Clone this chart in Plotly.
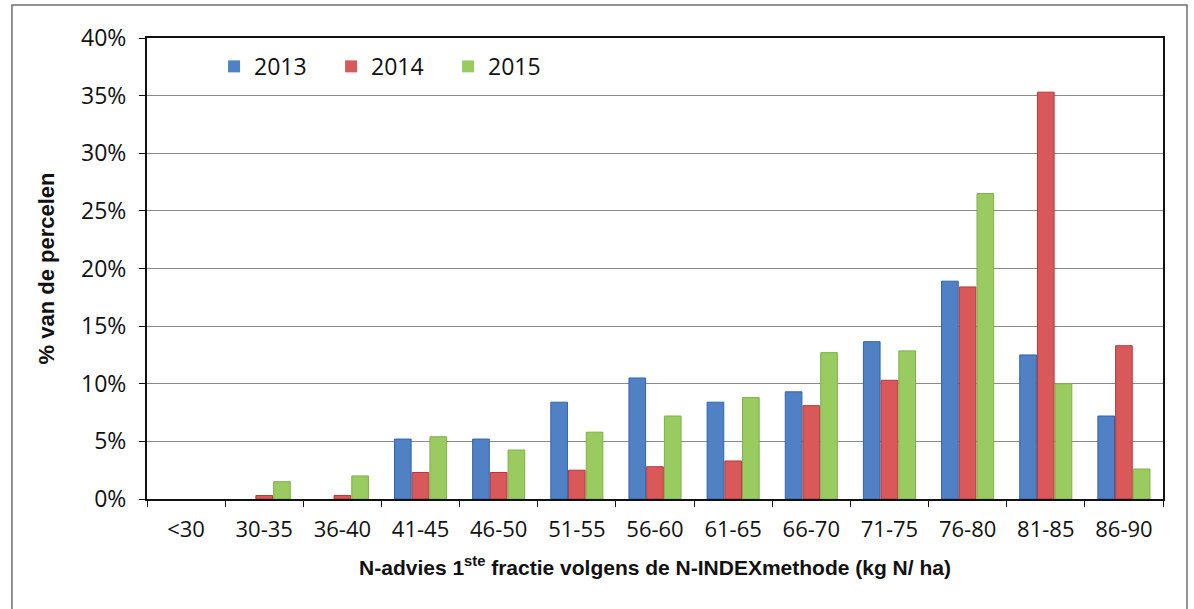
import plotly.graph_objects as go

categories = ["<30", "30-35", "36-40", "41-45", "46-50", "51-55", "56-60",
              "61-65", "66-70", "71-75", "76-80", "81-85", "86-90"]
v2013 = [0, 0, 0, 5.2, 5.2, 8.4, 10.5, 8.4, 9.3, 13.65, 18.9, 12.5, 7.2]
v2014 = [0, 0.3, 0.3, 2.3, 2.3, 2.5, 2.8, 3.3, 8.1, 10.3, 18.4, 35.3, 13.3]
v2015 = [0, 1.5, 2.0, 5.4, 4.25, 5.8, 7.2, 8.8, 12.7, 12.85, 26.5, 10.0, 2.6]
y_ticks = [0, 5, 10, 15, 20, 25, 30, 35, 40]
y_tick_labels = [f"{v}%" for v in y_ticks]

series = [
    ("2013", v2013, "#4F81C4", "#2F64AE"),
    ("2014", v2014, "#D9595B", "#B5383B"),
    ("2015", v2015, "#9ACB61", "#7DB046"),
]

fig = go.Figure()
for name, vals, col, line in series:
    fig.add_trace(go.Bar(
        x=categories, y=vals, name=name,
        marker=dict(color=col,
                    line=dict(color=line, width=[0 if v == 0 else 1 for v in vals])),
    ))

fig.update_layout(
    width=1194, height=609,
    margin=dict(l=147, r=31, t=38, b=110),
    paper_bgcolor="white", plot_bgcolor="white",
    barmode="group", bargap=0.32, bargroupgap=0.06,
    font=dict(family="Open Sans, Noto Sans, sans-serif", color="#111111"),
    legend=dict(
        orientation="h", x=0.066, y=0.985, xanchor="left", yanchor="top",
        font=dict(size=23, family="Open Sans, sans-serif", color="#111"),
        bgcolor="rgba(0,0,0,0)", itemwidth=30, traceorder="normal",
        entrywidth=72,
    ),
    showlegend=True,
)

fig.update_yaxes(
    range=[0, 40], tickvals=y_ticks, ticktext=y_tick_labels,
    showgrid=True, gridcolor="#8A8A8A", gridwidth=1,
    showline=True, linecolor="#111111", linewidth=2, mirror=True,
    ticks="outside", ticklen=6, tickcolor="#111111",
    ticklabelstandoff=8,
    tickfont=dict(size=23, family="Open Sans, sans-serif", color="#111"),
    zeroline=False,
    title=dict(text="% van de percelen",
               font=dict(size=22, family="Liberation Sans, Arial, sans-serif",
                         color="#111", weight="bold"),
               standoff=20),
)
fig.update_xaxes(
    showline=True, linecolor="#111111", linewidth=2, mirror=True,
    ticks="outside", ticklen=6, tickcolor="#111111", tickson="boundaries",
    ticklabelstandoff=10,
    tickfont=dict(size=22, family="Open Sans, sans-serif", color="#111"),
    title=dict(text="N-advies 1<sup>ste</sup> fractie volgens de N-INDEXmethode (kg N/ ha)",
               font=dict(size=21, family="Liberation Sans, Arial, sans-serif",
                         color="#111", weight="bold"),
               standoff=18),
)

# outer chart frame
fig.add_shape(type="rect", xref="paper", yref="paper",
              x0=-0.1329, x1=1.0236, y0=-0.26, y1=1.0716,
              line=dict(color="#6F6F6F", width=1.5), fillcolor="rgba(0,0,0,0)",
              layer="below")

fig.write_html("out.html",
               config={"displayModeBar": False},
               post_script="document.body.style.margin='0';document.body.style.overflow='hidden';")
